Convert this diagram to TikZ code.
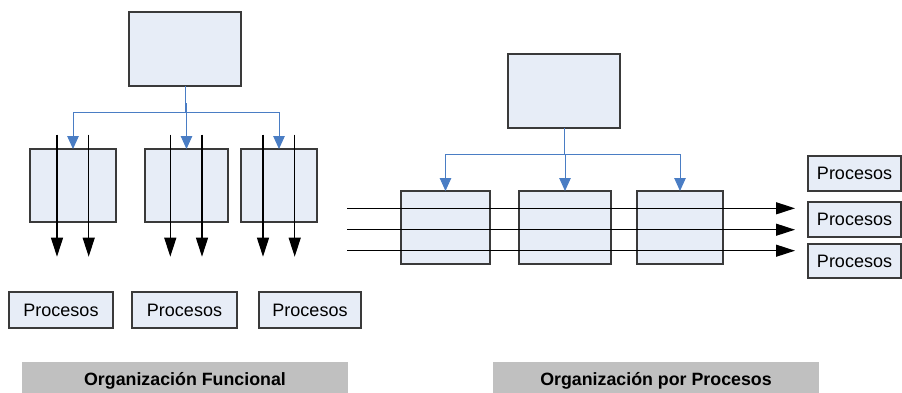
\documentclass[tikz,border=0pt]{standalone}
\usepackage{fontspec}
\setmainfont{Liberation Sans}
\usetikzlibrary{arrows.meta,calc}

\definecolor{boxfill}{HTML}{E7EDF7}
\definecolor{boxline}{HTML}{3A3A3A}
\definecolor{linkblue}{HTML}{4A7DC4}
\definecolor{bandgray}{HTML}{C0C0C0}

\tikzset{
  unitbox/.style={draw=boxline, line width=1.1pt, fill=boxfill, inner sep=0pt,
    outer sep=0pt, anchor=north west},
  proc/.style={unitbox},
  proctext/.style={font=\fontsize{18}{21}\selectfont},
  conn/.style={draw=linkblue, line width=1pt,
    -{Triangle[length=13pt,width=11.5pt]}},
  flow/.style={draw=black, line width=1.2pt,
    -{Triangle[length=19pt,width=12pt]}},
  band/.style={fill=bandgray, draw=none, inner sep=0pt, outer sep=0pt,
    anchor=north west},
  bandtext/.style={font=\bfseries\fontsize{17.8}{21}\selectfont, anchor=base}
}

\begin{document}
\begin{tikzpicture}[x=1pt,y=-1pt]
\useasboundingbox (0,0) rectangle (902,392);

% ---------- functional organisation ----------
\node[unitbox, minimum width=112, minimum height=74] (T1) at (129,12) {};
\node[unitbox, minimum width=86, minimum height=73] (L1) at (30,149) {};
\node[unitbox, minimum width=83, minimum height=73] (L2) at (145,149) {};
\node[unitbox, minimum width=76, minimum height=73] (L3) at (241,149) {};

\draw[conn] (T1.south) -- ++(0,26) -| (L1.north);
\draw[conn] (T1.south) -- ++(0,17) -| (L2.north);
\draw[conn] ($(T1.south)+(1.2,17)$) -- ++(0,9) -| (L3.north);

% vertical process flows through each department
\foreach \n/\x in {a/57,b/88.7,c/170.3,d/202,e/263,f/294.7}{
  \coordinate (v\n s) at (\x,134.7);
  \coordinate (v\n e) at (\x,256.7);
  \draw[flow] (v\n s) -- (v\n e);
}

\node[proc, minimum width=104, minimum height=36] (B1) at (9,292) {};
\node[proctext] (B1t) at (B1.center) {Procesos};
\node[proc, minimum width=105, minimum height=36] (B2) at (132,292) {};
\node[proctext] (B2t) at (B2.center) {Procesos};
\node[proc, minimum width=102, minimum height=36] (B3) at (259,292) {};
\node[proctext] (B3t) at (B3.center) {Procesos};

\node[band, minimum width=326, minimum height=36] (G1) at (22,362) {};
\node[bandtext] (G1t) at ($(G1.north)+(0,23)$) {Organización Funcional};

% ---------- process organisation ----------
\node[unitbox, minimum width=112, minimum height=74] (T2) at (508,54) {};
\node[unitbox, minimum width=89, minimum height=73] (R1) at (401,191) {};
\node[unitbox, minimum width=92, minimum height=73] (R2) at (519,191) {};
\node[unitbox, minimum width=86, minimum height=73] (R3) at (637,191) {};

\draw[conn] (T2.south) -- ++(0,26) -| (R1.north);
\draw[conn] (T2.south) -- ++(0,26) -| (R2.north);
\draw[conn] (T2.south) -- ++(0,26) -| (R3.north);

% horizontal process flows across the departments
\foreach \n/\y in {a/208.3,b/229.7,c/250.7}{
  \coordinate (h\n s) at (347,\y);
  \coordinate (h\n e) at (795,\y);
  \draw[flow] (h\n s) -- (h\n e);
}

\node[proc, minimum width=93, minimum height=35] (P1) at (808,156) {};
\node[proctext] (P1t) at (P1.center) {Procesos};
\node[proc, minimum width=93, minimum height=35] (P2) at (808,202) {};
\node[proctext] (P2t) at (P2.center) {Procesos};
\node[proc, minimum width=93, minimum height=34] (P3) at (808,244) {};
\node[proctext] (P3t) at (P3.center) {Procesos};

\node[band, minimum width=326, minimum height=36] (G2) at (493,362) {};
\node[bandtext] (G2t) at ($(G2.north)+(0,23)$) {Organización por Procesos};
\end{tikzpicture}
\end{document}
